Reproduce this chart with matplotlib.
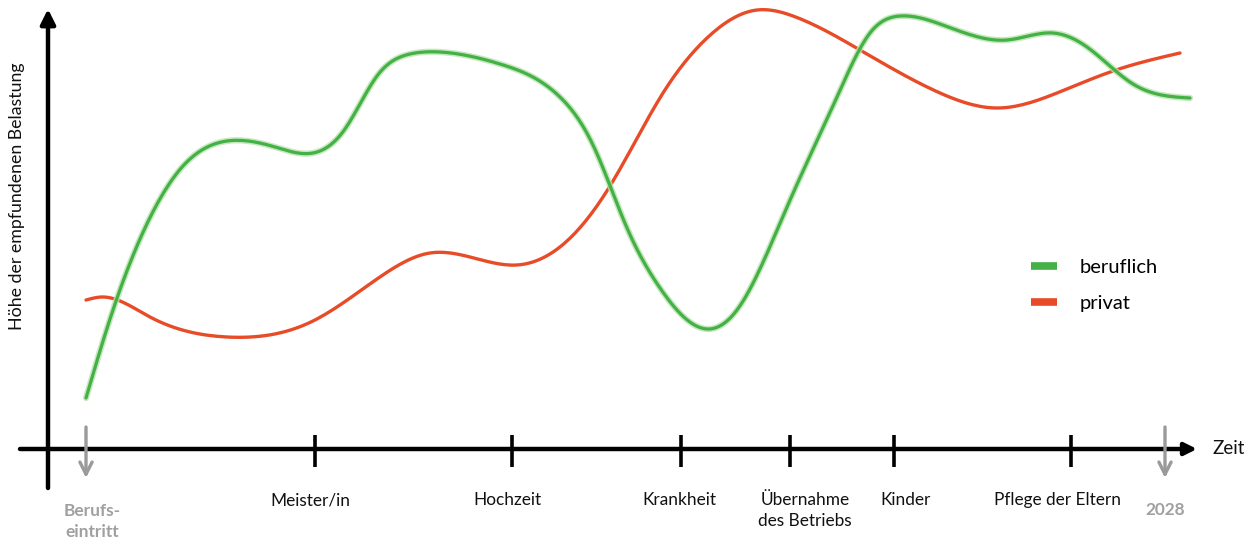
import numpy as np
import matplotlib
matplotlib.use("Agg")
import matplotlib.pyplot as plt
from matplotlib.lines import Line2D

plt.rcParams['font.family'] = ['Lato', 'DejaVu Sans']

# ---------------- data ----------------
# time positions (horizontal units) and perceived load (vertical units, 0 = time axis)
beruflich_t = [86, 110, 140, 183, 227, 275, 313, 345, 377, 410, 440, 500, 560,
               593, 627, 660, 707, 737, 787, 837, 870, 900, 940, 1007, 1053,
               1087, 1133, 1190]
beruflich_v = [51, 130, 210, 283, 308, 302, 296, 320, 373, 395, 397, 385, 352,
               304, 221, 161, 120, 139, 242, 352, 416, 433, 425, 409, 416,
               402, 365, 351]

privat_t = [86, 102, 150, 227, 313, 377, 430, 470, 517, 567, 610, 663, 707,
            757, 793, 860, 940, 997, 1057, 1113, 1180]
privat_v = [149, 152, 132, 112, 128, 170, 196, 192, 184, 208, 263, 356, 411,
            439, 433, 399, 356, 341, 356, 378, 396]

event_t = [315, 512, 681, 790, 894, 1071]
event_label_t = [310, 507, 679, 805, 906, 1058]
event_labels = ["Meister/in", "Hochzeit", "Krankheit", "Übernahme\ndes Betriebs",
                "Kinder", "Pflege der Eltern"]
start_t, start_label = 86, "Berufs-\neintritt"
end_t, end_label = 1165, "2028"

series_names = ["beruflich", "privat"]
series_colors = ["#43b145", "#e84b27"]

y_label = "Höhe der empfundenen Belastung"
x_label = "Zeit"


def natural_spline(xs, ys, n=16):
    x = np.asarray(xs, float)
    y = np.asarray(ys, float)
    m = len(x)
    h = np.diff(x)
    A = np.zeros((m, m))
    b = np.zeros(m)
    A[0, 0] = A[-1, -1] = 1
    for i in range(1, m - 1):
        A[i, i - 1] = h[i - 1]
        A[i, i] = 2 * (h[i - 1] + h[i])
        A[i, i + 1] = h[i]
        b[i] = 6 * ((y[i + 1] - y[i]) / h[i] - (y[i] - y[i - 1]) / h[i - 1])
    M = np.linalg.solve(A, b)
    X, Y = [], []
    for i in range(m - 1):
        t = np.linspace(x[i], x[i + 1], n, endpoint=False)
        a = x[i + 1] - t
        c = t - x[i]
        s = (M[i] * a ** 3 + M[i + 1] * c ** 3) / (6 * h[i]) \
            + (y[i] / h[i] - M[i] * h[i] / 6) * a + (y[i + 1] / h[i] - M[i + 1] * h[i] / 6) * c
        X.append(t)
        Y.append(s)
    X.append([x[-1]])
    Y.append([y[-1]])
    return np.concatenate(X), np.concatenate(Y)


fig = plt.figure(figsize=(12.57, 5.41), dpi=100)
ax = fig.add_axes([0, 0, 1, 1])
ax.set_xlim(0, 1257)
ax.set_ylim(-92, 449)
ax.axis("off")

# axes arrows
ax.annotate("", xy=(48, 440), xytext=(48, -39),
            arrowprops=dict(arrowstyle="-|>", lw=3.2, color="black",
                            mutation_scale=22, shrinkA=0, shrinkB=0))
ax.annotate("", xy=(1197, 0), xytext=(20, 0),
            arrowprops=dict(arrowstyle="-|>", lw=3.2, color="black",
                            mutation_scale=18, shrinkA=0, shrinkB=0))

# event ticks
for t in event_t:
    ax.plot([t, t], [-18, 14], color="black", lw=2.6, solid_capstyle="butt")
for t, lab in zip(event_label_t, event_labels):
    ax.text(t, -43, lab, ha="center", va="top", fontsize=12.4, color="#111111",
            linespacing=1.38)

ax.text(1212, 0, x_label, ha="left", va="center", fontsize=13.5, color="#111111")
ax.text(17, 449 - 196, y_label, ha="center", va="center", rotation=90, fontsize=12.8,
        color="#111111")

# grey arrows start / end
for t in (start_t, end_t):
    ax.annotate("", xy=(t, -29), xytext=(t, 22),
                arrowprops=dict(arrowstyle="->", lw=2.4, color="#9a9a9a",
                                mutation_scale=22, shrinkA=0, shrinkB=0))
ax.text(start_t + 6, -54, start_label, ha="center", va="top", fontsize=12.4,
        color="#a0a0a0", fontweight="bold", linespacing=1.35)
ax.text(end_t, -53, end_label, ha="center", va="top", fontsize=12.4,
        color="#a0a0a0", fontweight="bold")

# curves
bx, by = natural_spline(beruflich_t, beruflich_v)
px, py = natural_spline(privat_t, privat_v)
ax.plot(px, py, color=series_colors[1], lw=2.4, solid_capstyle="round", zorder=3)
ax.plot(bx, by, color="#b9e3b0", lw=4.5, solid_capstyle="round", zorder=3.5, alpha=0.8)
ax.plot(bx, by, color=series_colors[0], lw=2.3, solid_capstyle="round", zorder=4)

handles = [Line2D([], [], color=c, lw=5.5, solid_capstyle="butt") for c in series_colors]
ax.legend(handles, series_names, loc="upper left",
          bbox_to_anchor=(1031 / 1257, 1 - 259 / 541), frameon=False,
          fontsize=14.5, handlelength=1.3, handletextpad=1.1, labelspacing=0.95,
          borderpad=0, borderaxespad=0)

fig.savefig("out.png", dpi=100)
